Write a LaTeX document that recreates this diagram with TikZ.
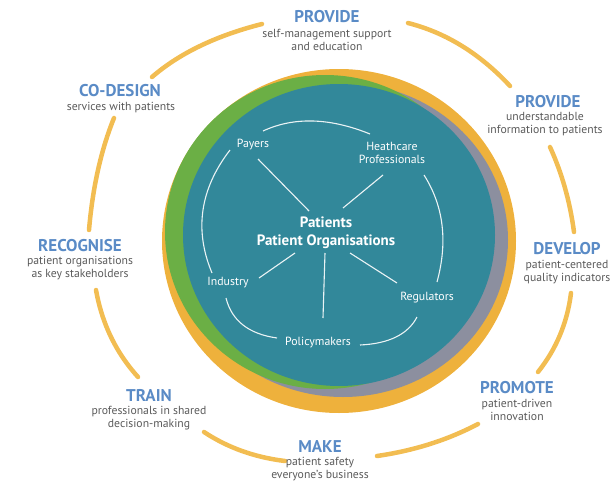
\documentclass[tikz,border=0pt]{standalone}
\usepackage{fontspec}
\setmainfont{PT Sans}
\usetikzlibrary{calc}
\definecolor{ringY}{HTML}{F2BD52}
\definecolor{blobY}{HTML}{EEB13C}
\definecolor{blobG}{HTML}{6BAF45}
\definecolor{blobGr}{HTML}{8C8F9F}
\definecolor{teal}{HTML}{32889A}
\definecolor{headB}{HTML}{5A8BC6}
\definecolor{bodyT}{HTML}{5A5A5A}
\tikzset{
  head/.style={text=headB, font=\fontsize{17}{18}\selectfont\bfseries, inner sep=0pt},
  body/.style={text=bodyT, font=\fontsize{11.7}{13.5}\selectfont, align=center, inner sep=0pt},
  ringarc/.style={draw=ringY, line width=4.5pt, line cap=round},
  inlab/.style={text=white, font=\fontsize{11.8}{13.5}\selectfont, align=center, inner sep=0pt},
  wline/.style={draw=white, line width=1.1pt, opacity=0.9},
}
% curve through three points (start, middle, end)
\newcommand{\qarc}[4]{\draw[#1] (#2) .. controls ($1.3333*(#3)-0.3333*(#4)$) and ($1.3333*(#3)-0.3333*(#2)$) .. (#4);}
\begin{document}
\begin{tikzpicture}[x=1pt,y=-1pt]
\useasboundingbox (0,0) rectangle (616,482);
% blob layers
\fill[blobY] (339,241) ellipse [x radius=177pt, y radius=172pt];
\fill[blobGr] (343,240) ellipse [x radius=165pt, y radius=157pt];
\fill[blobG] (325,232) ellipse [x radius=160pt, y radius=157pt];
\fill[teal] (339,235) ellipse [x radius=156pt, y radius=151pt];
% outer ring arcs
\qarc{ringarc}{152,77}{200,46}{262,24}
\qarc{ringarc}{408,23}{462,46}{510,86}
\qarc{ringarc}{114,118}{98,170}{89,230}
\qarc{ringarc}{96,290}{111,337}{138,377}
\qarc{ringarc}{550,147}{565,188}{574,232}
\qarc{ringarc}{571,293}{560,335}{538,372}
\qarc{ringarc}{478,424}{430,444}{377,456}
\qarc{ringarc}{204,432}{242,451}{285,461}
% outer labels
\node[head] (h1) at (327,17) {PROVIDE};
\node[body] (b1) at (327,40) {self-management support\\and education};
\node[head] (h2) at (120,91) {CO-DESIGN};
\node[body] (b2) at (121,108) {services with patients};
\node[head] (h3) at (548,102) {PROVIDE};
\node[body] (b3) at (545,124) {understandable\\information to patients};
\node[head] (h4) at (80,246) {RECOGNISE};
\node[body] (b4) at (80,268) {patient organisations\\as key stakeholders};
\node[head] (h5) at (567,249) {DEVELOP};
\node[body] (b5) at (567,272) {patient-centered\\quality indicators};
\node[head] (h6) at (149,396) {TRAIN};
\node[body] (b6) at (149,418) {professionals in shared\\decision-making};
\node[head] (h7) at (517,388) {PROMOTE};
\node[body] (b7) at (517,410) {patient-driven\\innovation};
\node[head] (h8) at (320,447) {MAKE};
\node[body] (b8) at (320,469) {patient safety\\everyone's business};
% inner
\node[text=white, font=\fontsize{15}{18}\selectfont\bfseries, align=center, inner sep=0pt] (ctr) at (326,233) {Patients\\Patient Organisations};
\node[inlab] (pay) at (253,145) {Payers};
\node[inlab] (hcp) at (392,153) {Heathcare\\Professionals};
\node[inlab] (ind) at (228,283) {Industry};
\node[inlab] (reg) at (427,298) {Regulators};
\node[inlab] (pol) at (318,343) {Policymakers};
% spoke end points
\coordinate (p1) at (258,159); \coordinate (p2) at (309,211);
\coordinate (q1) at (383,175); \coordinate (q2) at (343,208);
\coordinate (r1) at (259,278); \coordinate (r2) at (295,253);
\coordinate (s1) at (323,318); \coordinate (s2) at (325,253);
\coordinate (t1) at (397,283); \coordinate (t2) at (350,253);
\draw[wline] (p1) -- (p2);
\draw[wline] (q1) -- (q2);
\draw[wline] (r1) -- (r2);
\draw[wline] (s1) -- (s2);
\draw[wline] (t1) -- (t2);
% inner ring arcs
\qarc{wline}{263,131}{313,121}{370,134}
\qarc{wline}{424,175}{442,225}{437,282}
\qarc{wline}{417,317}{396,337}{360,345}
\qarc{wline}{226,298}{243,325}{277,338}
\qarc{wline}{230,150}{203,210}{212,273}
\end{tikzpicture}
\end{document}
